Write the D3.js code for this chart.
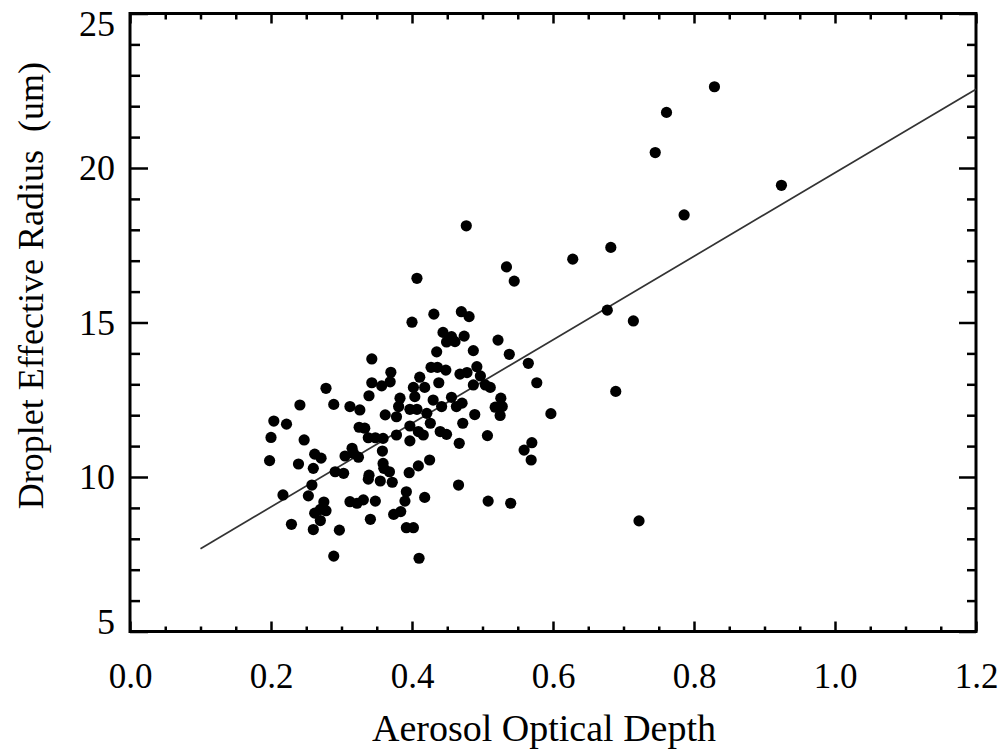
<!DOCTYPE html>
<html>
<head>
<meta charset="utf-8">
<script src="https://cdn.jsdelivr.net/npm/d3@7"></script>
<style>
  html, body { margin: 0; padding: 0; background: #fff; }
  svg { display: block; }
  text { font-family: "Liberation Serif", "Times New Roman", serif; fill: #000; }
</style>
</head>
<body>
<div id="chart"></div>
<script>
// ---- data ----
const aod = [
  0.407,0.534,0.545,0.477,0.628,0.682,0.677,0.714,0.689,0.722,
  0.829,0.761,0.745,0.786,0.924,0.431,0.470,0.481,0.400,0.444,
  0.456,0.449,0.461,0.474,0.522,0.435,0.487,0.538,0.565,0.343,
  0.427,0.436,0.448,0.468,0.478,0.492,0.497,0.370,0.369,0.357,
  0.343,0.411,0.438,0.402,0.418,0.487,0.504,0.511,0.577,0.278,
  0.339,0.383,0.404,0.430,0.456,0.471,0.526,0.241,0.289,0.312,
  0.326,0.381,0.397,0.407,0.442,0.463,0.518,0.528,0.362,0.378,
  0.421,0.489,0.525,0.597,0.204,0.222,0.325,0.333,0.397,0.426,
  0.472,0.200,0.247,0.338,0.348,0.359,0.378,0.397,0.409,0.416,
  0.440,0.449,0.467,0.507,0.570,0.559,0.569,0.262,0.271,0.305,
  0.315,0.317,0.324,0.358,0.198,0.239,0.260,0.359,0.360,0.368,
  0.409,0.425,0.291,0.303,0.339,0.338,0.355,0.372,0.396,0.258,
  0.466,0.217,0.253,0.275,0.312,0.322,0.331,0.348,0.392,0.390,
  0.418,0.508,0.540,0.270,0.262,0.278,0.270,0.374,0.384,0.341,
  0.229,0.260,0.297,0.392,0.402,0.289,0.410
];
const radius = [
  16.43,16.80,16.34,18.13,17.05,17.43,15.40,15.05,12.77,8.58,
  22.63,21.80,20.50,18.48,19.44,15.27,15.35,15.19,15.01,14.68,
  14.54,14.37,14.38,14.56,14.43,14.05,14.09,13.97,13.68,13.82,
  13.55,13.55,13.46,13.33,13.38,13.57,13.27,13.39,13.08,12.95,
  13.05,13.23,13.05,12.90,12.90,12.98,12.98,12.90,13.05,12.87,
  12.63,12.55,12.60,12.49,12.58,12.39,12.55,12.33,12.35,12.28,
  12.17,12.28,12.19,12.19,12.28,12.28,12.26,12.28,12.01,11.95,
  12.06,12.02,11.99,12.05,11.81,11.71,11.61,11.58,11.65,11.74,
  11.74,11.28,11.20,11.27,11.27,11.25,11.36,11.17,11.47,11.36,
  11.47,11.38,11.09,11.34,11.11,10.87,10.55,10.74,10.61,10.68,
  10.93,10.77,10.64,10.84,10.53,10.42,10.28,10.44,10.28,10.17,
  10.36,10.55,10.17,10.12,10.06,9.93,9.87,9.83,10.14,9.74,
  9.74,9.42,9.39,9.19,9.20,9.15,9.26,9.22,9.52,9.22,
  9.34,9.22,9.15,8.95,8.83,8.91,8.59,8.79,8.88,8.63,
  8.47,8.30,8.28,8.36,8.36,7.44,7.37
];
// regression line end points
const fitX = [0.1, 1.2];
const fitY = [7.68, 22.55];

const xTicks = [0.0, 0.2, 0.4, 0.6, 0.8, 1.0, 1.2];
const xTickLabels = ["0.0", "0.2", "0.4", "0.6", "0.8", "1.0", "1.2"];
const yTicks = [5, 10, 15, 20, 25];
const yTickLabels = ["5", "10", "15", "20", "25"];
const xTitle = "Aerosol Optical Depth";
const yTitle = "Droplet Effective Radius\u00a0\u00a0(um)";

// ---- layout ----
const W = 1008, H = 754;
const L = 130, R = 976, T = 13.5, B = 631.5;

const svg = d3.select("#chart").append("svg")
  .attr("width", W).attr("height", H);
svg.append("rect").attr("width", W).attr("height", H).attr("fill", "#fff");

const x = d3.scaleLinear().domain([0, 1.2]).range([L, R]);
const y = d3.scaleLinear().domain([5, 25]).range([B, T]);

const xMinor = d3.range(0, 1.2001, 0.05).filter(v => Math.abs(v / 0.2 - Math.round(v / 0.2)) > 1e-6);
const yMinor = d3.range(5, 25.001, 1).filter(v => v % 5 !== 0);

function styleAxis(g) {
  g.select(".domain").remove();
  g.selectAll(".tick line").attr("stroke", "#000").attr("stroke-width", 2.5);
}

// bottom
svg.append("g").attr("transform", `translate(0,${B})`)
  .call(d3.axisBottom(x).tickValues(xTicks).tickFormat((d, i) => xTickLabels[i])
    .tickSizeInner(-10).tickSizeOuter(0).tickPadding(32))
  .call(styleAxis)
  .call(g => g.selectAll("text").attr("font-size", 35).attr("font-family", "Liberation Serif"));
svg.append("g").attr("transform", `translate(0,${B})`)
  .call(d3.axisBottom(x).tickValues(xMinor).tickFormat("").tickSizeInner(-5).tickSizeOuter(0))
  .call(styleAxis);
// top
svg.append("g").attr("transform", `translate(0,${T})`)
  .call(d3.axisTop(x).tickValues(xTicks).tickFormat("").tickSizeInner(-10).tickSizeOuter(0))
  .call(styleAxis);
svg.append("g").attr("transform", `translate(0,${T})`)
  .call(d3.axisTop(x).tickValues(xMinor).tickFormat("").tickSizeInner(-6).tickSizeOuter(0))
  .call(styleAxis);
// left
svg.append("g").attr("transform", `translate(${L},0)`)
  .call(d3.axisLeft(y).tickValues(yTicks).tickFormat((d, i) => yTickLabels[i])
    .tickSizeInner(-18).tickSizeOuter(0).tickPadding(15))
  .call(styleAxis)
  .call(g => g.selectAll("text").attr("font-size", 36).attr("font-family", "Liberation Serif")
    .attr("dy", d => d === 25 ? "0.6em" : d === 5 ? "0.05em" : "0.33em"));
svg.append("g").attr("transform", `translate(${L},0)`)
  .call(d3.axisLeft(y).tickValues(yMinor).tickFormat("").tickSizeInner(-10).tickSizeOuter(0))
  .call(styleAxis);
// right
svg.append("g").attr("transform", `translate(${R},0)`)
  .call(d3.axisRight(y).tickValues(yTicks).tickFormat("").tickSizeInner(-17).tickSizeOuter(0))
  .call(styleAxis);
svg.append("g").attr("transform", `translate(${R},0)`)
  .call(d3.axisRight(y).tickValues(yMinor).tickFormat("").tickSizeInner(-9).tickSizeOuter(0))
  .call(styleAxis);

// frame
svg.append("rect")
  .attr("x", L).attr("y", T).attr("width", R - L).attr("height", B - T)
  .attr("fill", "none").attr("stroke", "#000").attr("stroke-width", 3);

// regression line
svg.append("line")
  .attr("x1", x(fitX[0])).attr("y1", y(fitY[0]))
  .attr("x2", x(fitX[1])).attr("y2", y(fitY[1]))
  .attr("stroke", "#333").attr("stroke-width", 1.7);

// points
svg.append("g").selectAll("circle")
  .data(aod.map((v, i) => [v, radius[i]]))
  .join("circle")
  .attr("cx", d => x(d[0])).attr("cy", d => y(d[1]))
  .attr("r", 5.6).attr("fill", "#000");

// titles
svg.append("text")
  .attr("x", 372).attr("y", 741)
  .attr("font-size", 38).attr("text-anchor", "start")
  .text(xTitle);
svg.append("text")
  .attr("transform", `translate(43,62) rotate(-90)`)
  .attr("font-size", 36).attr("text-anchor", "end")
  .text(yTitle);
</script>
</body>
</html>
